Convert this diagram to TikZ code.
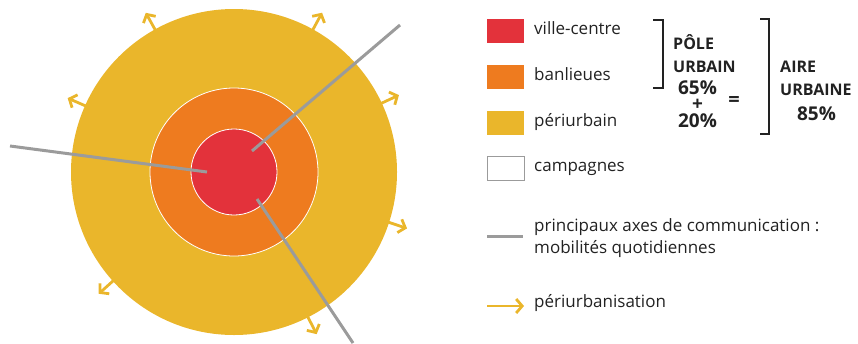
\documentclass[tikz,border=0pt]{standalone}
\usepackage{fontspec}
\setmainfont{Open Sans}
\usetikzlibrary{arrows.meta}
\definecolor{cred}{HTML}{E3323B}
\definecolor{corange}{HTML}{EE7B1F}
\definecolor{cyellow}{HTML}{EAB62B}
\definecolor{cgrey}{HTML}{9B9B9B}
\definecolor{cdark}{HTML}{222222}
\tikzset{
  zone/.style={circle, inner sep=0pt, outer sep=0pt},
  road/.style={draw=cgrey, line width=3pt},
  periarrow/.style={draw=cyellow, line width=2.8pt, -{Straight Barb[length=6pt,width=14pt]}},
  swatch/.style={rectangle, minimum width=37pt, minimum height=24pt, inner sep=0pt},
  legtext/.style={anchor=mid west, inner sep=0pt, font=\fontsize{17}{20}\selectfont, text=cdark},
  boldtext/.style={inner sep=0pt, font=\fontsize{16}{19}\selectfont\bfseries, text=cdark},
  boldnum/.style={inner sep=0pt, font=\fontsize{19}{22}\selectfont\bfseries, text=cdark},
  boldstack/.style={inner sep=0pt, align=center, font=\fontsize{19}{16.5}\selectfont\bfseries, text=cdark},
  boldsign/.style={inner sep=0pt, font=\fontsize{20}{22}\selectfont\bfseries, text=cdark, text height=9pt, text depth=0pt},
  bracket/.style={draw=cdark, line width=1.8pt}
}
\begin{document}
\begin{tikzpicture}[x=1pt,y=-1pt]
\useasboundingbox (0,0) rectangle (858,343);
% zones
\node[zone, fill=cyellow, minimum size=326pt] (peri) at (234,172) {};
\node[zone, fill=corange, draw=white, line width=0.8pt, minimum size=168pt] (banl) at (234,172) {};
\node[zone, fill=cred, draw=white, line width=0.8pt, minimum size=86pt] (ville) at (234,172) {};
% roads
\coordinate (r1a) at (10,146);
\coordinate (r1b) at (207,172);
\coordinate (r2a) at (400,25);
\coordinate (r2b) at (252,151);
\coordinate (r3a) at (353,343);
\coordinate (r3b) at (257,199);
\draw[road] (r1a) -- (r1b);
\draw[road] (r2a) -- (r2b);
\draw[road] (r3a) -- (r3b);
% periurbanisation arrows
\foreach \a in {119,61.6,156.5,25,-18.6,-138,-63}{
  \draw[periarrow] ([shift={(\a:-2pt)}]peri.\a) -- ([shift={(\a:19pt)}]peri.\a);
}
% legend
\node[swatch, fill=cred] (s1) at (505.5,31) {};
\node[swatch, fill=corange] (s2) at (505.5,77) {};
\node[swatch, fill=cyellow] (s3) at (505.5,123) {};
\node[swatch, fill=white, draw=cgrey, line width=0.8pt] (s4) at (505.5,168.5) {};
\node[legtext] (t1) at (534,32) {ville-centre};
\node[legtext] (t2) at (534,78) {banlieues};
\node[legtext] (t3) at (534,124) {périurbain};
\node[legtext] (t4) at (534,169) {campagnes};
\coordinate (g1) at (487,236);
\coordinate (g2) at (523,236);
\draw[road] (g1) -- (g2);
\node[legtext] (t5) at (534,229) {principaux axes de communication :};
\node[legtext] (t6) at (534,251) {mobilités quotidiennes};
\coordinate (p1) at (487,306);
\coordinate (p2) at (524,306);
\draw[periarrow] (p1) -- (p2);
\node[legtext] (t7) at (534,305) {périurbanisation};
% brackets
\draw[bracket] (653,20) -- (663,20) -- (663,88) -- (653,88);
\draw[bracket] (760,19) -- (769,19) -- (769,134) -- (760,134);
% bold texts
\node[boldtext, anchor=base west] (pole) at (673,49) {PÔLE};
\node[boldtext, anchor=base west] (urb) at (673,72) {URBAIN};
\node[boldstack, anchor=north] (sum) at (697.5,80.5) {65\%\\+\hspace*{17pt}\\20\%};
\node[boldsign, anchor=base] (eq) at (734,106.5) {=};
\node[boldtext, anchor=base west] (aire) at (780,72) {AIRE};
\node[boldtext, anchor=base west] (urbe) at (780,95) {URBAINE};
\node[boldnum, anchor=base] (p85) at (816.5,120) {85\%};
\end{tikzpicture}
\end{document}
